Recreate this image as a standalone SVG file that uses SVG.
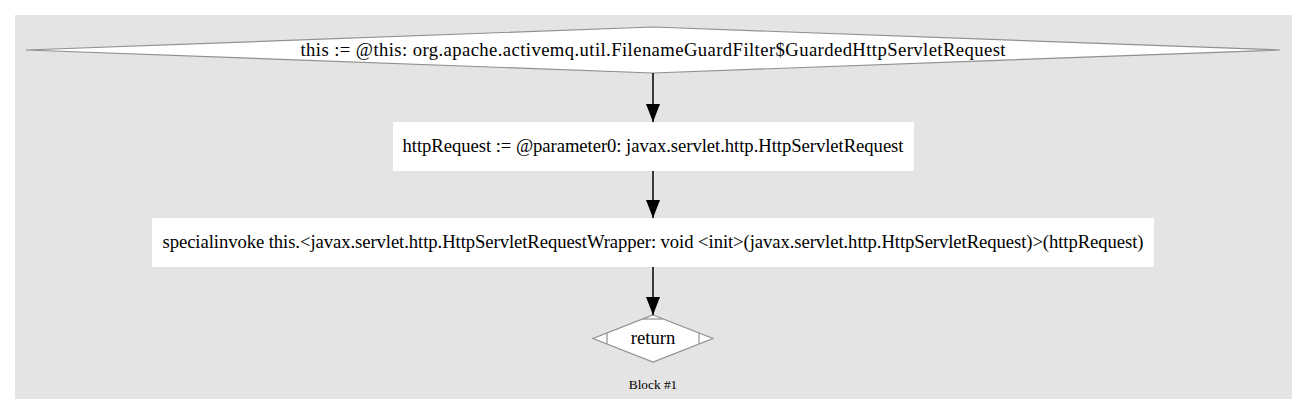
<svg xmlns="http://www.w3.org/2000/svg" width="1307" height="415" viewBox="0 0 1307 415">
<style>
text{font-family:'Liberation Serif','Times New Roman',serif;fill:#000;text-anchor:middle}
.n{font-size:18.67px}
.shape{fill:#fff;stroke:#909090;stroke-width:1.2}
.box{fill:#fff;stroke:none}
.edge{stroke:#000;stroke-width:1.5;fill:none}
</style>
<defs>
<marker id="ah" markerWidth="18" markerHeight="14" refX="18" refY="7" orient="auto" markerUnits="userSpaceOnUse" viewBox="0 0 18 14">
<path d="M0,0 L18,7 L0,14 z" fill="#000"/>
</marker>
</defs>
<rect x="0" y="0" width="1307" height="415" fill="#fff"/>
<rect id="cluster" x="15" y="15" width="1277" height="384" fill="#e4e4e4"/>
<g id="node1">
<polygon class="shape" points="653,27 1280,50 653,73 26,50"/>
<text class="n" x="653" y="56" textLength="705" lengthAdjust="spacing">this := @this: org.apache.activemq.util.FilenameGuardFilter$GuardedHttpServletRequest</text>
</g>
<g id="node2">
<rect class="box" x="393" y="122" width="521" height="49"/>
<text class="n" x="653" y="152" textLength="501" lengthAdjust="spacing">httpRequest := @parameter0: javax.servlet.http.HttpServletRequest</text>
</g>
<g id="node3">
<rect class="box" x="152" y="218" width="1002" height="49"/>
<text class="n" x="653" y="248" textLength="981" lengthAdjust="spacing">specialinvoke this.&lt;javax.servlet.http.HttpServletRequestWrapper: void &lt;init&gt;(javax.servlet.http.HttpServletRequest)&gt;(httpRequest)</text>
</g>
<g id="node4">
<polygon class="shape" points="653,315 713,338.5 653,362 593,338.5"/>
<line class="shape" x1="643" y1="319" x2="663" y2="319"/>
<line class="shape" x1="607" y1="333" x2="607" y2="344"/>
<line class="shape" x1="699" y1="333" x2="699" y2="344"/>
<text class="n" x="653" y="344">return</text>
</g>
<text x="653" y="389" style="font-size:13.3px">Block #1</text>
<g id="edges">
<line class="edge" x1="653" y1="73" x2="653" y2="122" marker-end="url(#ah)"/>
<line class="edge" x1="653" y1="171" x2="653" y2="218" marker-end="url(#ah)"/>
<line class="edge" x1="653" y1="267" x2="653" y2="315" marker-end="url(#ah)"/>
</g>
</svg>
